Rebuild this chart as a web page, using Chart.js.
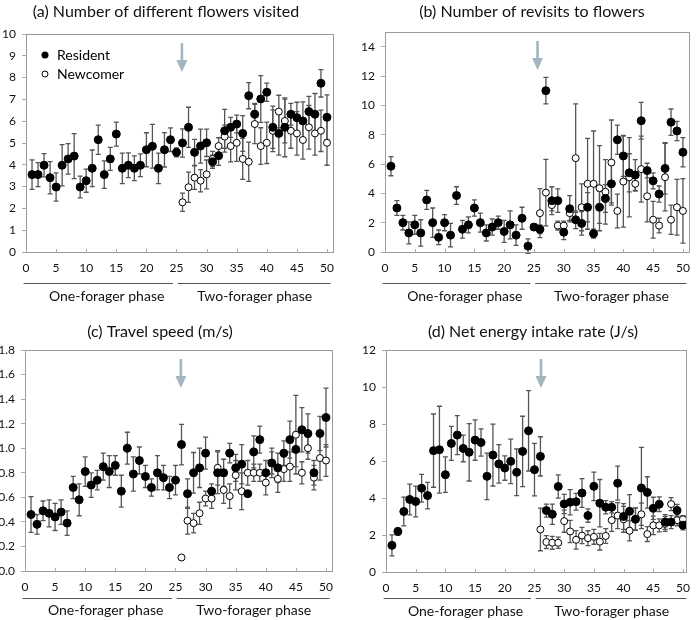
<!DOCTYPE html>
<html>
<head>
<meta charset="utf-8">
<script src="https://cdn.jsdelivr.net/npm/chart.js@4.4.1/dist/chart.umd.min.js"></script>
<style>
  body { margin: 0; background: #fff; }
  #wrap { position: relative; width: 699px; height: 620px; overflow: hidden; }
  #wrap canvas { position: absolute; }
</style>
</head>
<body>
<div id="wrap">
  <canvas id="chartA" width="349" height="310" style="left:0;top:0"></canvas>
  <canvas id="chartB" width="349" height="310" style="left:350px;top:0"></canvas>
  <canvas id="chartC" width="349" height="320" style="left:0;top:300px"></canvas>
  <canvas id="chartD" width="349" height="320" style="left:350px;top:300px"></canvas>
</div>
<script>
// days (foraging bouts) 1..50, newcomer only present from day 26
const days = [1,2,3,4,5,6,7,8,9,10,11,12,13,14,15,16,17,18,19,20,21,22,23,24,25,
  26,27,28,29,30,31,32,33,34,35,36,37,38,39,40,41,42,43,44,45,46,47,48,49,50];
const newcomerDays = days.slice(25);
const xTicks = [0,5,10,15,20,25,30,35,40,45,50];
const phaseNames = ["One-forager phase", "Two-forager phase"];
const seriesNames = ["Resident", "Newcomer"];

// (a) number of different flowers visited
const flowersRes = [3.55,3.55,3.98,3.41,2.98,3.98,4.27,4.4,2.98,3.27,
  3.84,5.15,3.55,4.27,5.41,3.84,3.98,3.84,3.98,4.69,
  4.85,3.84,4.69,5.15,4.57,5.0,5.72,4.57,4.86,5.01,
  4.14,4.42,5.56,5.72,5.87,5.44,7.17,6.32,7.02,7.33,
  5.72,5.44,5.72,6.32,6.16,6.01,6.44,6.32,7.74,6.18];
const flowersResErr = [0.68,0.55,0.53,0.74,0.65,0.95,0.7,1.03,0.5,0.53,
  0.84,0.67,0.63,0.53,0.55,0.7,0.57,0.57,0.52,0.78,
  1.0,0.7,0.79,0.54,0.2,0.65,0.92,0.6,0.78,0.63,
  0.3,0.45,0.98,0.46,0.41,0.82,0.6,0.5,1.07,0.42,
  0.97,1.0,1.35,0.5,0.71,0.88,0.7,0.95,0.63,1.03];
const flowersNew = [2.28,2.97,3.41,3.27,3.56,4.27,4.86,5.29,4.86,5.01,
  4.27,4.14,5.87,4.86,5.01,5.56,6.44,6.01,5.56,5.44,
  5.14,5.72,5.44,5.56,5.01];
const flowersNewErr = [0.42,0.69,0.54,0.51,0.66,0.35,0.38,0.53,0.73,0.85,
  0.94,0.9,0.9,0.84,0.95,0.96,0.75,1.0,0.8,1.0,
  0.88,1.0,1.0,0.95,1.03];

// (b) number of revisits to flowers
const revisitsRes = [5.85,3.0,2.0,1.3,1.85,1.3,3.55,2.0,1.0,2.0,
  1.15,3.85,1.55,1.85,3.0,2.0,1.3,1.7,2.0,1.4,
  1.85,1.15,2.3,0.4,1.7,1.55,11.0,3.5,3.5,1.35,
  2.95,2.2,1.95,3.05,1.25,3.05,3.65,4.65,7.65,6.55,
  5.4,5.25,8.95,5.55,4.85,3.95,5.7,8.85,8.25,6.8];
const revisitsResErr = [0.65,0.5,0.5,0.75,0.65,0.9,0.65,1.0,0.5,0.55,
  0.8,0.6,0.6,0.55,0.55,0.65,0.55,0.55,0.45,0.75,
  0.95,0.7,0.75,0.5,0.2,0.3,0.9,0.95,0.8,0.5,
  0.9,0.6,0.8,1.0,0.3,1.1,0.95,1.3,1.0,1.4,
  1.3,1.05,1.25,0.5,0.55,0.55,1.75,0.9,0.65,1.0];
const revisitsNew = [2.65,4.05,3.2,1.8,1.8,2.65,6.4,3.05,4.65,4.65,
  4.35,4.1,6.1,2.8,4.8,5.1,4.65,5.65,3.8,2.2,
  1.8,5.1,2.2,3.05,2.8];
const revisitsNewErr = [1.67,2.27,0.4,0.3,0.3,0.5,3.7,1.6,3.1,3.6,
  2.9,2.2,2.9,1.15,3.1,2.7,0.5,2.25,1.75,1.25,
  0.5,2.3,1.0,1.9,2.2];

// (c) travel speed (m/s)
const speedRes = [0.46,0.38,0.49,0.47,0.44,0.48,0.39,0.68,0.58,0.81,
  0.7,0.74,0.85,0.81,0.86,0.65,1.0,0.79,0.9,0.77,
  0.68,0.8,0.76,0.68,0.74,1.03,0.63,0.8,0.84,0.96,
  0.65,0.8,0.8,0.96,0.84,0.87,0.63,0.97,1.07,0.8,
  0.88,0.84,0.96,1.07,0.99,1.15,1.12,0.8,1.12,1.25];
const speedResErr = [0.145,0.08,0.08,0.11,0.11,0.1,0.1,0.09,0.13,0.12,
  0.1,0.08,0.11,0.13,0.08,0.13,0.13,0.14,0.11,0.09,
  0.07,0.14,0.1,0.09,0.12,0.165,0.12,0.165,0.16,0.13,
  0.06,0.17,0.11,0.08,0.11,0.16,0.02,0.13,0.11,0.1,
  0.12,0.12,0.1,0.15,0.14,0.18,0.16,0.1,0.14,0.24];
const speedNew = [0.11,0.41,0.39,0.47,0.59,0.59,0.84,0.66,0.61,0.78,
  0.65,0.8,0.8,0.8,0.72,0.88,0.75,0.83,0.85,1.11,
  0.8,1.0,0.76,0.92,0.9];
const speedNewErr = [0.01,0.11,0.08,0.09,0.06,0.08,0.14,0.11,0.1,0.12,
  0.15,0.1,0.07,0.07,0.1,0.09,0.11,0.1,0.12,0.32,
  0.09,0.09,0.1,0.18,0.13];

// (d) net energy intake rate (J/s)
const energyRes = [1.44,2.19,3.27,3.92,3.81,4.53,4.13,6.56,6.61,5.26,
  6.95,7.4,6.68,6.47,7.13,7.0,5.17,6.32,5.84,5.62,
  5.98,5.39,6.52,7.63,5.53,6.25,3.32,3.12,4.62,3.68,
  3.77,3.8,4.27,3.05,4.63,3.72,3.5,3.5,4.8,3.0,
  3.28,2.85,4.54,4.3,3.44,3.66,2.7,2.7,3.33,2.53];
const energyResErr = [0.57,0.2,0.78,0.83,0.83,0.75,0.72,1.98,2.35,0.96,
  0.92,1.05,0.72,1.55,1.09,0.74,1.26,1.67,1.04,0.66,
  1.2,1.26,1.9,2.17,1.42,1.06,0.35,0.55,0.63,0.52,
  0.68,0.45,0.78,0.36,0.77,1.28,0.36,0.3,0.92,0.7,
  0.9,0.6,2.2,0.85,0.6,0.4,0.4,0.35,0.33,0.25];
const energyNew = [2.3,1.62,1.58,1.58,2.75,2.19,1.74,1.97,1.83,1.9,
  1.64,1.95,2.8,3.05,2.85,2.23,2.87,3.12,2.05,2.52,
  2.52,2.6,3.67,2.8,2.85];
const energyNewErr = [1.15,0.35,0.35,0.3,0.6,0.6,0.5,0.44,0.4,0.4,
  0.45,0.4,0.6,0.7,0.7,0.55,0.6,0.6,0.4,0.5,
  0.35,0.4,0.35,0.3,0.2];

Chart.defaults.font.family = "Lato, 'Open Sans', sans-serif";
Chart.defaults.color = "#111";

function toPoints(xs, ys) {
  return ys.map((y, i) => ({ x: xs[i], y: y }));
}

// error bars, drawn under the markers
const errorBars = {
  id: "errorBars",
  beforeDatasetsDraw(chart) {
    const ctx = chart.ctx;
    const y = chart.scales.y;
    ctx.save();
    ctx.strokeStyle = "#555";
    ctx.lineWidth = 1.3;
    chart.data.datasets.forEach((ds, i) => {
      const meta = chart.getDatasetMeta(i);
      meta.data.forEach((pt, j) => {
        const v = ds.data[j].y;
        const e = ds.errors[j];
        const top = y.getPixelForValue(v + e);
        const bot = y.getPixelForValue(v - e);
        ctx.beginPath();
        ctx.moveTo(pt.x, top);
        ctx.lineTo(pt.x, bot);
        ctx.moveTo(pt.x - 2.5, top);
        ctx.lineTo(pt.x + 2.5, top);
        ctx.moveTo(pt.x - 2.5, bot);
        ctx.lineTo(pt.x + 2.5, bot);
        ctx.stroke();
      });
    });
    ctx.restore();
  }
};

// frame, title, arrow, legend, phase lines
const decor = {
  id: "decor",
  afterDraw(chart, args, opts) {
    const ctx = chart.ctx;
    const area = chart.chartArea;
    const x = chart.scales.x;
    ctx.save();

    ctx.strokeStyle = "#9a9a9a";
    ctx.lineWidth = 1;
    ctx.strokeRect(Math.round(area.left) + 0.5, Math.round(area.top) + 0.5,
      Math.round(area.right - area.left), Math.round(area.bottom - area.top));

    // small ticks on the x axis, pointing up
    ctx.strokeStyle = "#aaa";
    ctx.beginPath();
    xTicks.forEach(t => {
      const px = Math.round(x.getPixelForValue(t)) + 0.5;
      ctx.moveTo(px, area.bottom);
      ctx.lineTo(px, area.bottom - 3);
    });
    ctx.stroke();

    ctx.fillStyle = "#111";
    ctx.font = "16px Lato";
    ctx.textAlign = "center";
    ctx.textBaseline = "middle";
    ctx.fillText(opts.title, opts.titleX, opts.titleY);

    // arrow marking the newcomer's arrival
    const ax = x.getPixelForValue(opts.arrowX);
    const at = area.top + 9;
    ctx.fillStyle = "#a2b6bf";
    ctx.fillRect(ax - 1.3, at, 2.6, 18);
    ctx.beginPath();
    ctx.moveTo(ax - 5.5, at + 17);
    ctx.lineTo(ax + 5.5, at + 17);
    ctx.lineTo(ax, at + 29);
    ctx.closePath();
    ctx.fill();

    if (opts.legend) {
      ctx.font = "14px Lato";
      ctx.textAlign = "left";
      ctx.fillStyle = "#000";
      ctx.beginPath();
      ctx.arc(area.left + 19, area.top + 21, 3.5, 0, Math.PI * 2);
      ctx.fill();
      ctx.fillText(seriesNames[0], area.left + 31, area.top + 21);
      ctx.beginPath();
      ctx.arc(area.left + 19, area.top + 40, 3, 0, Math.PI * 2);
      ctx.fillStyle = "#fff";
      ctx.fill();
      ctx.strokeStyle = "#000";
      ctx.stroke();
      ctx.fillStyle = "#000";
      ctx.fillText(seriesNames[1], area.left + 31, area.top + 40);
    }

    // phase underlines and labels
    const ly = Math.round(area.bottom + opts.lineGap) + 0.5;
    ctx.strokeStyle = "#555";
    ctx.beginPath();
    ctx.moveTo(x.getPixelForValue(-0.4), ly);
    ctx.lineTo(x.getPixelForValue(24.4), ly);
    ctx.moveTo(x.getPixelForValue(25.2), ly);
    ctx.lineTo(x.getPixelForValue(50.6), ly);
    ctx.stroke();
    ctx.font = "14px Lato";
    ctx.textAlign = "center";
    ctx.fillStyle = "#111";
    ctx.fillText(phaseNames[0], x.getPixelForValue(13.4), area.bottom + opts.labelGap);
    ctx.fillText(phaseNames[1], x.getPixelForValue(38), area.bottom + opts.labelGap);
    ctx.restore();
  }
};

function makePanel(id, p) {
  return new Chart(document.getElementById(id), {
    type: "scatter",
    data: {
      datasets: [
        {
          label: seriesNames[0],
          data: toPoints(days, p.res),
          errors: p.resErr,
          backgroundColor: "#000",
          borderColor: "#000",
          pointRadius: 4,
        },
        {
          label: seriesNames[1],
          data: toPoints(newcomerDays, p.newc),
          errors: p.newErr,
          backgroundColor: "#fff",
          borderColor: "#000",
          borderWidth: 1,
          pointRadius: 3.5,
        },
      ],
    },
    options: {
      responsive: false,
      animation: false,
      layout: { padding: p.padding },
      plugins: {
        legend: { display: false },
        tooltip: { enabled: false },
        decor: p.decor,
      },
      scales: {
        x: {
          type: "linear",
          min: 0,
          max: p.xMax,
          afterBuildTicks: (axis) => { axis.ticks = xTicks.map(v => ({ value: v })); },
          afterFit: (axis) => { axis.height = 25; },
          grid: { display: false, drawTicks: false },
          border: { color: "#bbb" },
          ticks: { padding: 9, font: { size: 12 }, color: "#111" },
        },
        y: {
          min: 0,
          max: p.yMax,
          afterBuildTicks: (axis) => { axis.ticks = p.yTicks.map(v => ({ value: v })); },
          afterFit: (axis) => { axis.width = p.yWidth; },
          grid: { drawOnChartArea: false, tickLength: 4, color: "#aaa" },
          border: { color: "#9a9a9a" },
          ticks: { padding: 6, font: { size: 12 }, color: "#111", callback: p.fmt },
        },
      },
    },
    plugins: [errorBars, decor],
  });
}

const intLabel = (v) => String(v);

makePanel("chartA", {
  res: flowersRes, resErr: flowersResErr, newc: flowersNew, newErr: flowersNewErr,
  xMax: 51, yMax: 10, yTicks: [0,1,2,3,4,5,6,7,8,9,10], yWidth: 26, fmt: intLabel,
  padding: { left: 0, right: 16, top: 34, bottom: 33 },
  decor: { title: "(a) Number of different flowers visited", titleX: 166, titleY: 12,
    arrowX: 25.9, legend: true, lineGap: 31, labelGap: 44 },
});

makePanel("chartB", {
  res: revisitsRes, resErr: revisitsResErr, newc: revisitsNew, newErr: revisitsNewErr,
  xMax: 51, yMax: 15, yTicks: [0,2,4,6,8,10,12,14], yWidth: 35, fmt: intLabel,
  padding: { left: 0, right: 6, top: 32, bottom: 33 },
  decor: { title: "(b) Number of revisits to flowers", titleX: 182, titleY: 12,
    arrowX: 25.6, legend: false, lineGap: 31, labelGap: 44 },
});

makePanel("chartC", {
  res: speedRes, resErr: speedResErr, newc: speedNew, newErr: speedNewErr,
  xMax: 51, yMax: 1.8, yTicks: [0,0.2,0.4,0.6,0.8,1.0,1.2,1.4,1.6,1.8], yWidth: 25,
  fmt: (v) => v.toFixed(1),
  padding: { left: 0, right: 17, top: 50, bottom: 24 },
  decor: { title: "(c) Travel speed (m/s)", titleX: 160, titleY: 32,
    arrowX: 25.9, legend: false, lineGap: 27, labelGap: 39 },
});

makePanel("chartD", {
  res: energyRes, resErr: energyResErr, newc: energyNew, newErr: energyNewErr,
  xMax: 50.5, yMax: 12, yTicks: [0,2,4,6,8,10,12], yWidth: 36, fmt: intLabel,
  padding: { left: 0, right: 6, top: 50, bottom: 23 },
  decor: { title: "(d) Net energy intake rate (J/s)", titleX: 183, titleY: 32,
    arrowX: 26.1, legend: false, lineGap: 26, labelGap: 39 },
});
</script>
</body>
</html>
